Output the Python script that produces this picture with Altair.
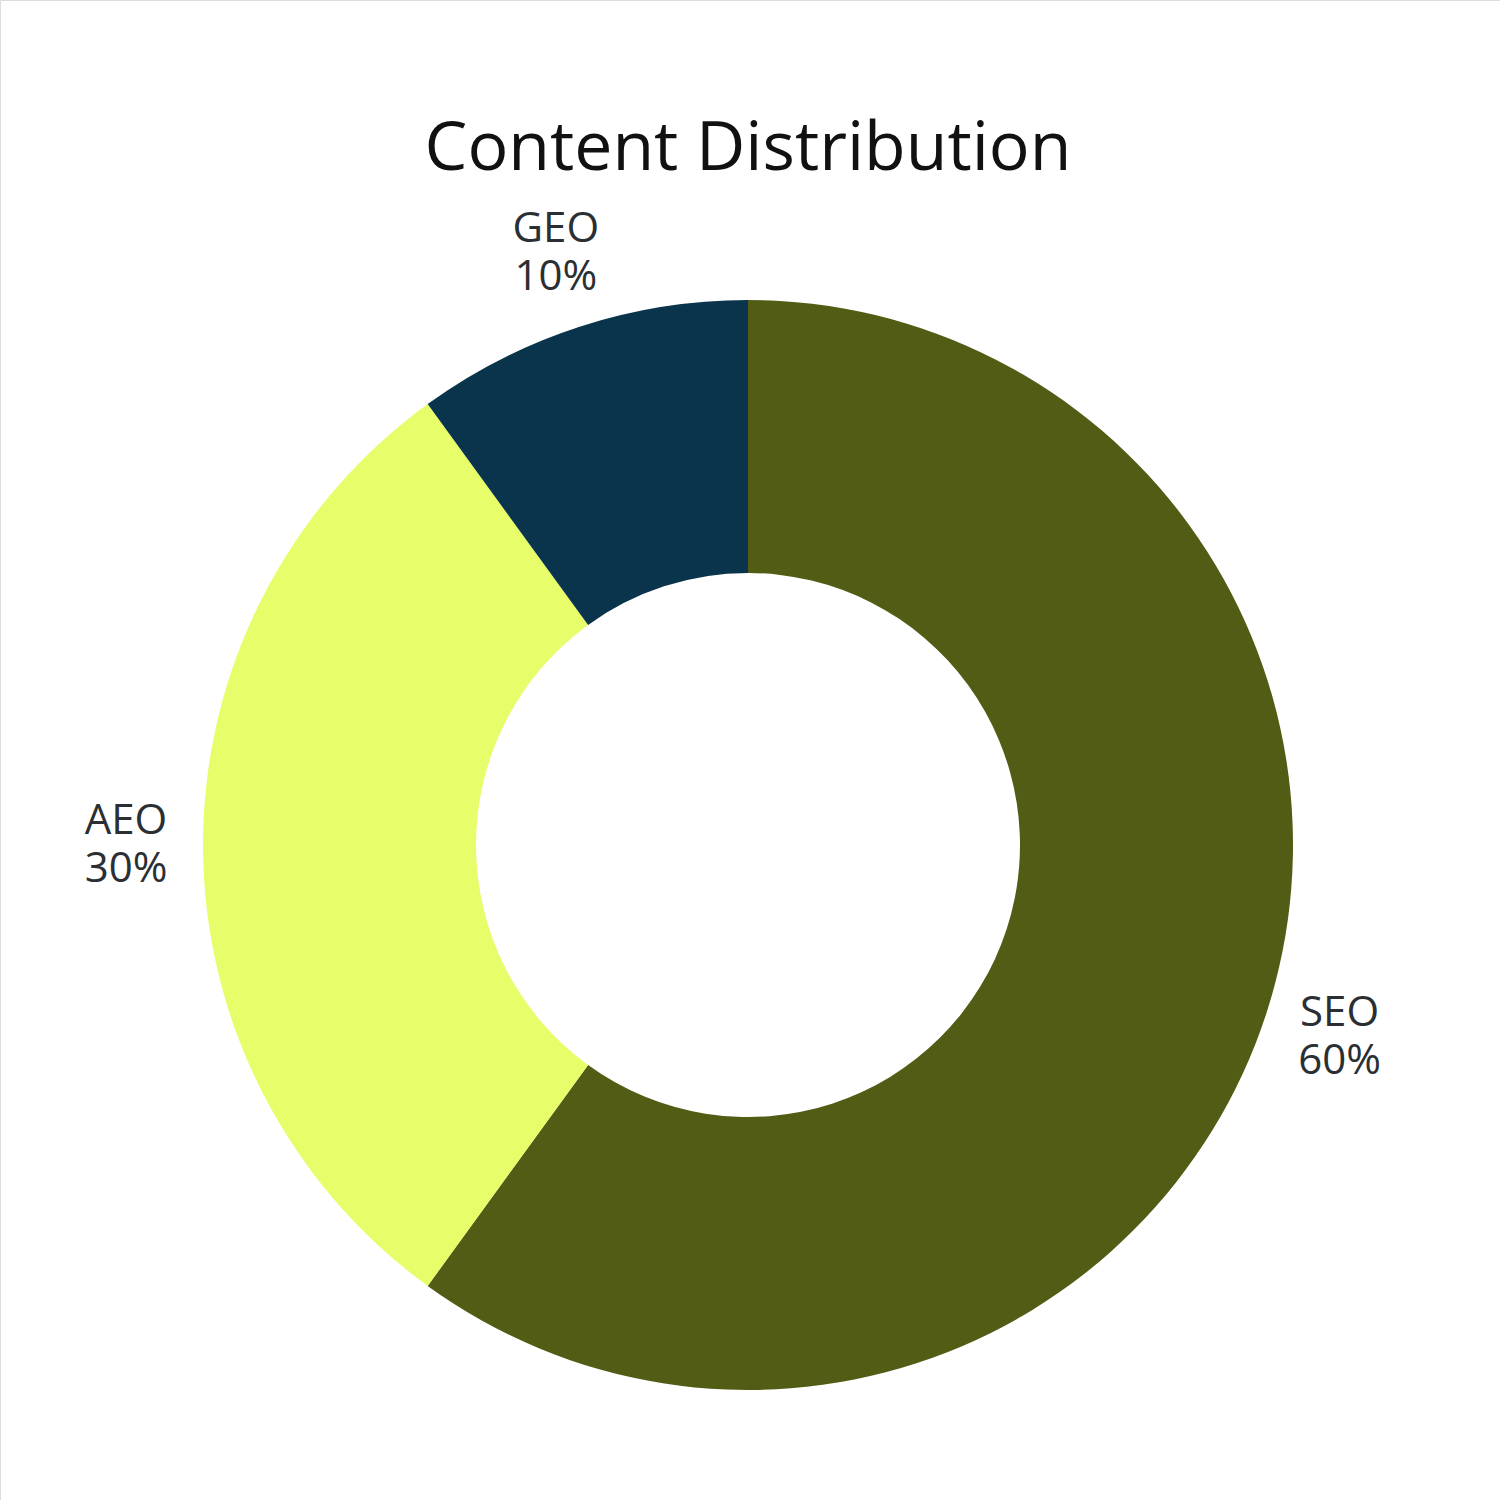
import altair as alt
import pandas as pd

# Content share by channel
categories = ["SEO", "AEO", "GEO"]
shares = [60, 30, 10]
colors = ["#535c14", "#e8fd6a", "#0a344b"]

df = pd.DataFrame({
    "category": categories,
    "share": shares,
    "order": list(range(len(categories))),
    "pct": [f"{s}%" for s in shares],
})

cx, cy = 748, 845

base = alt.Chart(df).encode(
    theta=alt.Theta("share:Q", stack=True),
    order=alt.Order("order:O"),
    x=alt.value(cx),
    y=alt.value(cy),
)

donut = base.mark_arc(outerRadius=545, innerRadius=272).encode(
    color=alt.Color("category:N",
                    scale=alt.Scale(domain=categories, range=colors),
                    legend=None),
)

label_style = dict(radius=622, fontSize=42, font="Open Sans", color="#2b2f33",
                   align="center", baseline="middle")

# Category name above, percentage below, both on the slice's mid-angle
names = base.mark_text(dy=-24, **label_style).encode(text="category:N")
pcts = base.mark_text(dy=24, **label_style).encode(text="pct:N")

title = alt.Chart(pd.DataFrame({"t": ["Content Distribution"]})).mark_text(
    fontSize=68, font="Open Sans", color="#111111", align="center", baseline="middle",
).encode(text="t:N", x=alt.value(cx), y=alt.value(150))

chart = (donut + names + pcts + title).properties(
    width=1500, height=1500,
    autosize=alt.AutoSizeParams(type="none"),
    padding=0,
).configure_view(stroke=None).configure(background="white")

chart.save("out.html", embed_options={"renderer": "svg", "actions": False})
